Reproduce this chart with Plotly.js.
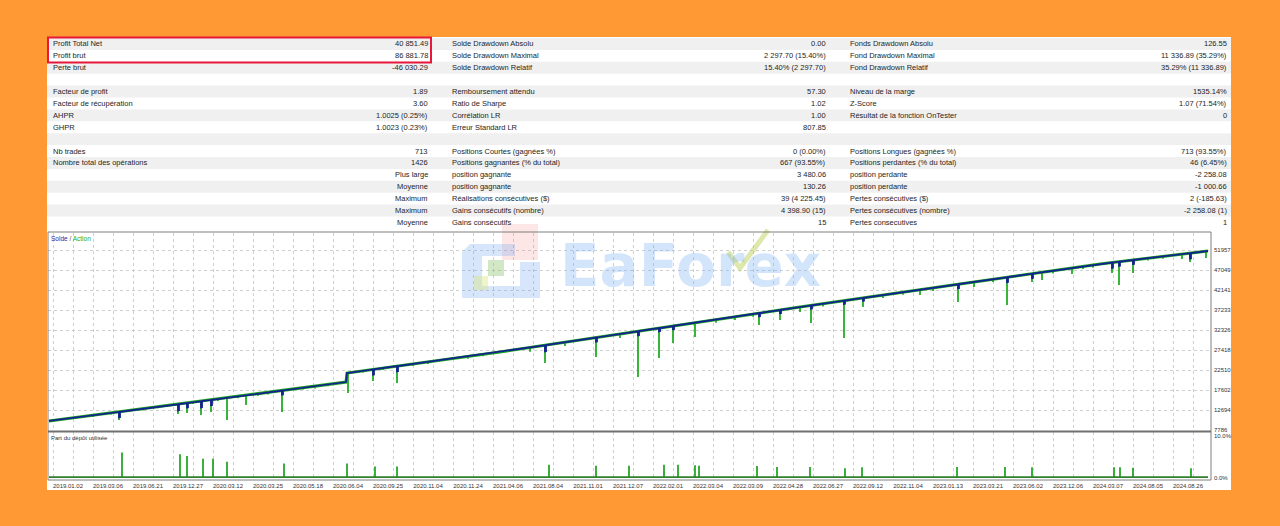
<!DOCTYPE html>
<html><head><meta charset="utf-8">
<script src="https://cdn.plot.ly/plotly-3.0.1.min.js"></script>
<style>html,body{margin:0;padding:0;background:#FF9933;}#chart{width:1280px;height:526px;}</style>
</head><body><div id="chart"></div>
<script>
// ---------------- DATA ----------------
const col1Labels = ['Profit Total Net','Profit brut','Perte brut','','Facteur de profit','Facteur de récupération','AHPR','GHPR','','Nb trades','Nombre total des opérations','','','','',''];
const col1Values = ['40 851.49','86 881.78','-46 030.29','','1.89','3.60','1.0025 (0.25%)','1.0023 (0.23%)','','713','1426','Plus large','Moyenne','Maximum','Maximum','Moyenne'];
const col2Labels = ['Solde Drawdown Absolu','Solde Drawdown Maximal','Solde Drawdown Relatif','','Remboursement attendu','Ratio de Sharpe','Corrélation LR','Erreur Standard LR','','Positions Courtes (gagnées %)','Positions gagnantes (% du total)','position gagnante','position gagnante','Réalisations consécutives ($)','Gains consécutifs (nombre)','Gains consécutifs'];
const col2Values = ['0.00','2 297.70 (15.40%)','15.40% (2 297.70)','','57.30','1.02','1.00','807.85','','0 (0.00%)','667 (93.55%)','3 480.06','130.26','39 (4 225.45)','4 398.90 (15)','15'];
const col3Labels = ['Fonds Drawdown Absolu','Fond Drawdown Maximal','Fond Drawdown Relatif','','Niveau de la marge','Z-Score','Résultat de la fonction OnTester','','','Positions Longues (gagnées %)','Positions perdantes (% du total)','position perdante','position perdante','Pertes consécutives ($)','Pertes consécutives (nombre)','Pertes consecutives'];
const col3Values = ['126.55','11 336.89 (35.29%)','35.29% (11 336.89)','','1535.14%','1.07 (71.54%)','0','','','713 (93.55%)','46 (6.45%)','-2 258.08','-1 000.66','2 (-185.63)','-2 258.08 (1)','1'];

const dateLabels = ['2019.01.02','2019.03.06','2019.06.21','2019.12.27','2020.03.12','2020.03.25','2020.05.18','2020.06.04','2020.09.25','2020.11.04','2020.11.24','2021.04.06','2021.08.04','2021.11.01','2021.12.07','2022.02.01','2022.03.04','2022.03.09','2022.04.28','2022.06.27','2022.09.12','2022.11.04','2023.01.13','2023.03.21','2023.06.02','2023.12.06','2024.03.07','2024.08.05','2024.08.26'];
const balanceTicks = [7786,12694,17602,22510,27418,32326,37233,42141,47049,51957];

// balance curve (trade index, balance)
const balanceX = [-4, 100, 200, 293, 294, 447, 587, 747, 907, 1047, 1155];
const balanceY = [10000, 13300, 16500, 19550, 21774, 26927, 32081, 37970, 43614, 48522, 51713];
// balance dips (closing losses)
const dipX     = [66, 125, 134, 148, 158, 229, 320, 344, 492, 543, 585, 606, 620, 706, 727, 758, 791, 810, 905, 954, 979, 1059, 1066, 1080, 1137];
const dipDepth = [1300,1500,1100,1500,1300,1000,1300,1300,1500,1000,1000,800,800,800,800,800,800,700,1000,1200,1100,1300,1000,1000,1300];
// equity lows (green drawdown spikes)
const equityX   = [40, 58, 66, 90, 105, 125, 134, 140, 148, 158, 165, 174, 185, 193, 205, 215, 229, 250, 262, 275, 295, 310, 320, 330, 344, 360, 375, 415, 430, 477, 492, 512, 543, 567, 585, 606, 620, 642, 663, 682, 700, 706, 727, 747, 758, 770, 791, 810, 830, 850, 867, 880, 905, 921, 940, 954, 979, 989, 1000, 1019, 1030, 1040, 1059, 1066, 1080, 1095, 1110, 1129, 1137, 1153];
const equityLow = [11000, 11600, 10240, 12600, 13100, 11712, 11958, 14150, 11467, 12203, 14900, 10240, 15600, 13921, 16200, 16500, 12203, 17700, 18000, 18500, 16866, 21900, 19811, 22500, 19320, 23500, 24000, 25300, 25900, 27000, 24228, 28400, 25700, 30363, 20792, 25455, 29136, 30608, 34100, 34780, 35600, 33553, 34780, 36743, 34044, 38100, 30363, 37970, 40200, 41000, 40915, 41900, 39197, 42878, 44100, 38461, 44105, 44596, 46200, 46068, 47300, 47600, 46313, 43369, 46313, 49400, 49800, 49749, 49013, 49995];
// deposit load (%)
const loadX = [69, 127, 134, 150, 160, 174, 231, 294, 322, 344, 496, 543, 576, 611, 625, 642, 646, 704, 724, 757, 792, 809, 904, 952, 979, 1061, 1067, 1080, 1138];
const loadPct = [6.0, 5.6, 5.2, 4.5, 4.5, 3.8, 3.4, 3.4, 2.7, 2.7, 3.1, 2.9, 2.9, 3.1, 3.1, 3.0, 2.9, 2.8, 2.6, 2.6, 2.3, 2.5, 2.6, 2.6, 2.5, 2.5, 2.5, 2.4, 2.3];
const baseLoadX = [-4, 1155];
const baseLoad = [0.2, 0.2];

// ---------------- GEOMETRY ----------------
const W=1280, H=526, L=47, R=49, T=37, B=36;
const PW=W-L-R, PH=H-T-B;
const px = x => (x-L)/PW;
const py = y => (H-B-y)/PH;
const FONT = 'Liberation Sans, Arial, sans-serif';

function balAt(u){
  for(let i=0;i<balanceX.length-1;i++){
    if(u>=balanceX[i] && u<=balanceX[i+1]){
      const t=(u-balanceX[i])/(balanceX[i+1]-balanceX[i]);
      return balanceY[i]+t*(balanceY[i+1]-balanceY[i]);
    }
  }
  return balanceY[balanceY.length-1];
}

// balance polyline with dips
let pts = balanceX.map((x,i)=>({x:x,y:balanceY[i],k:0}));
dipX.forEach((u,j)=>{
  const d=dipDepth[j], b0=balAt(u), b1=balAt(u+1);
  pts.push({x:u,y:b0,k:1},{x:u,y:b0-d,k:2},{x:u+1,y:b1-d,k:3},{x:u+1,y:b1,k:4});
});
pts.sort((a,b)=>a.x-b.x || a.k-b.k);

// equity spikes
const ex=[], ey=[];
equityX.forEach((u,j)=>{ ex.push(u,u,null); ey.push(balAt(u), equityLow[j], null); });

const traces = [
  {type:'scatter', mode:'lines', x:balanceX, y:balanceY, xaxis:'x', yaxis:'y', line:{color:'#1ea51e', width:3}, hoverinfo:'skip'},
  {type:'scatter', mode:'lines', x:ex, y:ey, xaxis:'x', yaxis:'y', line:{color:'#16a816', width:1.7}, hoverinfo:'skip'},
  {type:'scatter', mode:'lines', x:pts.map(p=>p.x), y:pts.map(p=>p.y), xaxis:'x', yaxis:'y', line:{color:'#12238f', width:1.8}, hoverinfo:'skip'},
  {type:'scatter', mode:'lines', x:baseLoadX, y:baseLoad, xaxis:'x', yaxis:'y2', line:{color:'#2f7f2f', width:1.6}, hoverinfo:'skip'},
  {type:'bar', x:loadX, y:loadPct, xaxis:'x', yaxis:'y2', width:1.7, marker:{color:'#1aa01a', line:{width:0}}, hoverinfo:'skip'}
];

// grid / ticks
const gridVals=[], gridText=[];
for(let k=0;k<=57;k++){ gridVals.push(k*20); gridText.push(k%2===0 && dateLabels[k/2] ? dateLabels[k/2] : ''); }

// ---------------- SHAPES ----------------
const shapes = [];
shapes.push({type:'rect', xref:'paper', yref:'paper', x0:0, x1:1, y0:0, y1:1, fillcolor:'#ffffff', line:{width:0}, layer:'below'});
const rowH = 11.9, row0 = 38;
for(let i=0;i<16;i++){
  if(i%2===0){
    shapes.push({type:'rect', xref:'paper', yref:'paper', x0:px(47), x1:px(1231), y0:py(row0+rowH*(i+1)), y1:py(row0+rowH*i), fillcolor:'#f0f0f0', line:{width:0}, layer:'below'});
  }
}
// watermark logo (faint)
shapes.push({type:'rect', xref:'paper', yref:'paper', x0:px(502), x1:px(538), y0:py(260), y1:py(224), fillcolor:'rgba(240,130,130,0.2)', line:{width:0}, layer:'above'});
shapes.push({type:'path', xref:'paper', yref:'paper', path:`M ${px(470)} ${py(244)} L ${px(515)} ${py(244)} L ${px(515)} ${py(256)} L ${px(482)} ${py(256)} L ${px(482)} ${py(286)} L ${px(520)} ${py(286)} L ${px(520)} ${py(262)} L ${px(540)} ${py(262)} L ${px(540)} ${py(298)} L ${px(462)} ${py(298)} L ${px(462)} ${py(252)} Z`, fillcolor:'rgba(110,165,240,0.28)', line:{width:0}, layer:'above'});
shapes.push({type:'rect', xref:'paper', yref:'paper', x0:px(488), x1:px(504), y0:py(276), y1:py(260), fillcolor:'rgba(140,195,110,0.4)', line:{width:0}, layer:'above'});
shapes.push({type:'rect', xref:'paper', yref:'paper', x0:px(474), x1:px(488), y0:py(290), y1:py(276), fillcolor:'rgba(215,230,120,0.4)', line:{width:0}, layer:'above'});
shapes.push({type:'path', xref:'paper', yref:'paper', path:`M ${px(728)} ${py(252)} L ${px(740)} ${py(268)} L ${px(768)} ${py(230)}`, line:{color:'rgba(190,210,90,0.5)', width:5}, layer:'above'});
// chart frame
shapes.push({type:'rect', xref:'paper', yref:'paper', x0:px(48), x1:px(1211), y0:py(480), y1:py(232), line:{color:'#7f7f7f', width:1}, layer:'above'});
shapes.push({type:'line', xref:'paper', yref:'paper', x0:px(48), x1:px(1211), y0:py(431.5), y1:py(431.5), line:{color:'#707070', width:2}, layer:'above'});
// red highlight
shapes.push({type:'rect', xref:'paper', yref:'paper', x0:px(48), x1:px(431), y0:py(62.5), y1:py(37.5), line:{color:'#e8183a', width:2}, layer:'above'});

// ---------------- ANNOTATIONS ----------------
const annotations = [];
const tf = {family:FONT, size:7.5, color:'#1e1e1e'};
const cols = [
  {labels:col1Labels, values:col1Values, lx:51, rx:430},
  {labels:col2Labels, values:col2Values, lx:450, rx:828},
  {labels:col3Labels, values:col3Values, lx:848, rx:1229}
];
cols.forEach(c=>{
  for(let i=0;i<16;i++){
    const yc = py(row0+rowH*i+rowH/2);
    if(c.labels[i]) annotations.push({xref:'paper', yref:'paper', x:px(c.lx), y:yc, xanchor:'left', yanchor:'middle', text:c.labels[i], showarrow:false, font:tf});
    if(c.values[i]) annotations.push({xref:'paper', yref:'paper', x:px(c.rx), y:yc, xanchor:'right', yanchor:'middle', text:c.values[i], showarrow:false, font:tf});
  }
});
annotations.push({xref:'paper', yref:'paper', x:px(49), y:py(238.5), xanchor:'left', yanchor:'middle', showarrow:false,
  text:'<span style="color:#2a2aa0">Solde</span> / <span style="color:#22b022">Action</span>', font:{family:FONT, size:6.5, color:'#555'}});
annotations.push({xref:'paper', yref:'paper', x:px(49), y:py(437.5), xanchor:'left', yanchor:'middle', showarrow:false,
  text:'Part du dépôt utilisée', font:{family:FONT, size:6, color:'#333'}});
annotations.push({xref:'paper', yref:'paper', x:px(690), y:py(266), xanchor:'center', yanchor:'middle', showarrow:false,
  text:'EaForex', font:{family:'DejaVu Sans', size:58, weight:'bold', color:'rgba(125,178,242,0.34)'}});

const axFont = {family:FONT, size:6, color:'#333'};
const layout = {
  width:W, height:H,
  margin:{l:L, r:R, t:T, b:B, pad:0},
  paper_bgcolor:'#FF9933', plot_bgcolor:'rgba(0,0,0,0)',
  showlegend:false,
  xaxis:{domain:[px(48), px(1211)], range:[-5,1158], anchor:'y2', tickmode:'array', tickvals:gridVals, ticktext:gridText,
    ticks:'', showgrid:true, gridcolor:'#cfcfcf', griddash:'dot', gridwidth:1, zeroline:false, showline:false,
    tickfont:axFont, ticklabelshift:15, ticklabelstandoff:1, tickangle:0},
  yaxis:{domain:[py(431), py(233)], range:[7541, 56130], anchor:'x', side:'right', tickmode:'array', tickvals:balanceTicks,
    ticktext:balanceTicks.map(String), ticks:'', showgrid:true, gridcolor:'#cfcfcf', griddash:'dot', zeroline:false, showline:false,
    tickfont:axFont, ticklabelstandoff:2},
  yaxis2:{domain:[py(480), py(432)], range:[-0.47, 10.82], anchor:'x', side:'right', tickmode:'array', tickvals:[0,10],
    ticktext:['0.0%','10.0%'], ticks:'', showgrid:false, zeroline:false, showline:false, tickfont:axFont, ticklabelstandoff:2},
  shapes:shapes, annotations:annotations
};
Plotly.newPlot('chart', traces, layout, {staticPlot:true, displayModeBar:false});
</script></body></html>
